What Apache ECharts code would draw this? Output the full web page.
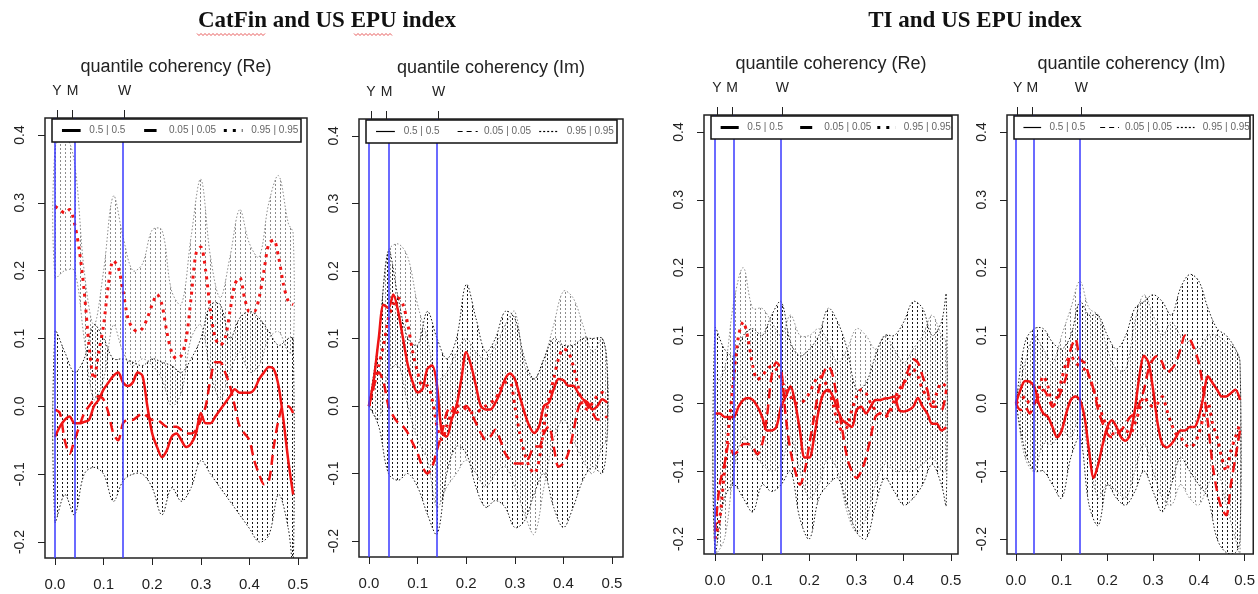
<!DOCTYPE html>
<html>
<head>
<meta charset="utf-8">
<script src="https://cdn.jsdelivr.net/npm/echarts@6/dist/echarts.min.js"></script>
<style>
  html, body { margin: 0; background: #fff; }
  #chart { width: 1258px; height: 594px; }
</style>
</head>
<body>
<div id="chart"></div>
<script>
// frequency grids
const freq = [0, 0.01, 0.02, 0.03, 0.04, 0.05, 0.06, 0.07, 0.08, 0.09,
  0.10, 0.11, 0.12, 0.13, 0.14, 0.15, 0.16, 0.17, 0.18, 0.19,
  0.20, 0.21, 0.22, 0.23, 0.24, 0.25, 0.26, 0.27, 0.28, 0.29,
  0.30, 0.31, 0.32, 0.33, 0.34, 0.35, 0.36, 0.37, 0.38, 0.39,
  0.40, 0.41, 0.42, 0.43, 0.44, 0.45, 0.46, 0.47, 0.48, 0.49];
const bandFreq = [0, 0.02, 0.04, 0.06, 0.08, 0.10, 0.12, 0.14, 0.16, 0.18, 0.20, 0.22, 0.24,
  0.26, 0.28, 0.30, 0.32, 0.34, 0.36, 0.38, 0.40, 0.42, 0.44, 0.46, 0.48, 0.49];

const xTicks = [0, 0.1, 0.2, 0.3, 0.4, 0.5];
const yTicks = [-0.2, -0.1, 0, 0.1, 0.2, 0.3, 0.4];
const periodMarks = [0.004, 0.036, 0.143];
const periodLabels = ['Y', 'M', 'W'];
const legendLabels = ['0.5 | 0.5', '0.05 | 0.05', '0.95 | 0.95'];

// CatFin and US EPU, real part
const catRe_q50 = [-0.045,-0.03,-0.02,-0.015,-0.025,-0.025,-0.023,-0.02,0.0,0.01,0.025,0.035,0.045,0.05,0.035,0.03,0.035,0.05,0.045,0.0,-0.04,-0.06,-0.075,-0.065,-0.045,-0.04,-0.05,-0.06,-0.055,-0.04,-0.01,-0.025,-0.025,-0.015,-0.005,0.005,0.015,0.025,0.02,0.02,0.02,0.025,0.04,0.05,0.058,0.055,0.03,-0.02,-0.08,-0.13];
const catRe_q05 = [-0.005,-0.01,-0.05,-0.07,-0.05,-0.03,-0.01,0.0,0.01,0.015,0.01,-0.01,-0.04,-0.05,-0.025,-0.02,-0.02,-0.015,-0.01,-0.015,-0.02,-0.02,-0.025,-0.03,-0.03,-0.03,-0.035,-0.04,-0.04,-0.035,-0.02,0.0,0.04,0.065,0.065,0.05,0.03,0.0,-0.03,-0.04,-0.05,-0.08,-0.1,-0.115,-0.11,-0.06,-0.02,0.0,0.0,-0.01];
const catRe_q95 = [0.295,0.29,0.285,0.29,0.27,0.23,0.17,0.09,0.04,0.08,0.12,0.18,0.215,0.205,0.17,0.13,0.115,0.11,0.115,0.13,0.15,0.165,0.15,0.11,0.08,0.07,0.075,0.1,0.16,0.225,0.235,0.2,0.14,0.1,0.09,0.1,0.14,0.18,0.19,0.16,0.14,0.14,0.16,0.2,0.24,0.245,0.22,0.18,0.155,0.15];
const catRe_grayLo = [0.19,0.2,0.2,0.1,0.01,0.04,0.12,0.08,0.06,0.07,0.06,0.04,0.0,0.02,0.1,0.12,0.05,0.01,0.05,0.08,0.05,0.06,0.1,0.11,0.08,0.08];
const catRe_grayHi = [0.38,0.4,0.36,0.2,0.12,0.2,0.31,0.25,0.2,0.21,0.26,0.26,0.17,0.15,0.25,0.335,0.22,0.16,0.22,0.29,0.24,0.22,0.3,0.34,0.27,0.255];
const catRe_blackLo = [-0.17,-0.13,-0.16,-0.1,-0.09,-0.1,-0.14,-0.11,-0.1,-0.1,-0.12,-0.16,-0.12,-0.14,-0.12,-0.08,-0.1,-0.12,-0.14,-0.16,-0.18,-0.2,-0.19,-0.13,-0.18,-0.24];
const catRe_blackHi = [0.11,0.08,0.05,0.07,0.12,0.1,0.07,0.07,0.065,0.06,0.07,0.065,0.06,0.05,0.07,0.1,0.15,0.15,0.1,0.13,0.14,0.13,0.11,0.09,0.1,0.1];

// CatFin and US EPU, imaginary part
const catIm_q50 = [0.0,0.04,0.1,0.15,0.145,0.165,0.14,0.1,0.06,0.035,0.02,0.025,0.055,0.06,0.03,-0.04,-0.045,-0.02,0.0,0.04,0.08,0.06,0.03,0.0,-0.005,-0.005,0.005,0.02,0.04,0.048,0.04,0.015,-0.01,-0.03,-0.04,-0.03,0.0,0.005,0.025,0.04,0.038,0.03,0.03,0.02,0.01,0.005,-0.005,0.0,0.01,0.005];
const catIm_q05 = [0.0,0.03,0.05,0.035,0.0,-0.015,-0.025,-0.03,-0.04,-0.055,-0.07,-0.09,-0.1,-0.09,-0.065,-0.04,-0.01,0.0,-0.01,-0.005,0.0,-0.01,-0.025,-0.04,-0.05,-0.045,-0.035,-0.05,-0.07,-0.08,-0.085,-0.085,-0.085,-0.075,-0.06,-0.06,-0.04,-0.03,-0.06,-0.09,-0.085,-0.07,-0.04,-0.005,0.01,0.0,-0.01,-0.02,-0.02,-0.015];
const catIm_q95 = [0.0,0.03,0.06,0.09,0.13,0.15,0.16,0.15,0.12,0.08,0.05,0.03,0.03,0.01,-0.03,-0.05,-0.03,-0.01,0.0,0.0,-0.005,-0.01,-0.01,-0.005,0.0,0.005,0.01,0.025,0.035,0.035,0.0,-0.04,-0.07,-0.09,-0.1,-0.08,-0.03,0.01,0.04,0.07,0.085,0.08,0.06,0.03,0.0,-0.005,0.005,0.015,0.02,0.015];
const catIm_grayLo = [0.0,-0.02,0.05,0.06,0.0,-0.05,-0.08,-0.15,-0.12,-0.1,-0.08,-0.1,-0.12,-0.1,-0.09,-0.12,-0.16,-0.19,-0.12,-0.05,-0.02,-0.05,-0.08,-0.1,-0.06,-0.05];
const catIm_grayHi = [0.0,0.1,0.23,0.24,0.22,0.15,0.1,0.04,0.05,0.08,0.1,0.08,0.07,0.09,0.12,0.14,0.06,0.04,0.07,0.12,0.17,0.16,0.12,0.08,0.1,0.05];
const catIm_blackLo = [0.0,-0.03,-0.1,-0.11,-0.1,-0.12,-0.16,-0.19,-0.1,-0.06,-0.07,-0.12,-0.15,-0.14,-0.15,-0.18,-0.17,-0.13,-0.1,-0.15,-0.18,-0.15,-0.11,-0.09,-0.1,-0.04];
const catIm_blackHi = [0.0,0.1,0.23,0.16,0.1,0.09,0.14,0.1,0.07,0.1,0.18,0.13,0.08,0.1,0.14,0.13,0.07,0.04,0.07,0.1,0.09,0.09,0.1,0.1,0.1,0.06];

// TI and US EPU, real part
const tiRe_q50 = [-0.015,-0.015,-0.02,-0.02,-0.02,-0.005,0.005,0.008,0.005,-0.005,-0.02,-0.04,-0.04,-0.035,-0.005,0.01,0.025,0.0,-0.04,-0.08,-0.08,-0.05,-0.01,0.015,0.02,0.01,-0.01,-0.025,-0.03,-0.035,-0.01,-0.005,-0.015,-0.005,0.005,0.005,0.007,0.008,0.01,-0.01,-0.012,-0.01,-0.005,0.008,-0.005,-0.015,-0.03,-0.03,-0.04,-0.035];
const tiRe_q05 = [-0.19,-0.12,-0.09,-0.06,-0.075,-0.07,-0.06,-0.06,-0.065,-0.075,-0.06,-0.02,0.04,0.06,0.05,-0.02,-0.07,-0.1,-0.12,-0.1,-0.06,-0.02,0.02,0.045,0.055,0.04,0.0,-0.04,-0.08,-0.1,-0.11,-0.1,-0.08,-0.05,-0.02,-0.015,-0.02,-0.01,0.0,0.01,0.03,0.05,0.065,0.06,0.04,0.02,-0.005,-0.005,-0.01,0.02];
const tiRe_q95 = [-0.2,-0.17,-0.1,-0.03,0.04,0.1,0.12,0.095,0.055,0.035,0.04,0.05,0.055,0.05,0.035,0.02,0.01,0.0,0.0,0.005,0.015,0.03,0.04,0.035,0.02,0.0,-0.03,-0.04,-0.035,-0.01,0.01,0.02,0.015,0.0,-0.01,-0.015,-0.02,-0.015,0.005,0.02,0.03,0.04,0.05,0.04,0.02,0.01,0.0,0.015,0.03,0.025];
const tiRe_grayLo = [-0.22,-0.2,-0.1,-0.05,-0.07,-0.09,-0.1,-0.09,-0.05,-0.1,-0.14,-0.12,-0.08,-0.1,-0.16,-0.19,-0.17,-0.12,-0.09,-0.1,-0.1,-0.1,-0.09,-0.08,-0.1,-0.1];
const tiRe_grayHi = [0.02,0.05,0.15,0.2,0.14,0.14,0.12,0.1,0.13,0.1,0.1,0.11,0.09,0.06,0.08,0.11,0.1,0.08,0.1,0.08,0.06,0.08,0.1,0.13,0.1,0.09];
const tiRe_blackLo = [-0.22,-0.14,-0.12,-0.14,-0.16,-0.12,-0.13,-0.12,-0.1,-0.17,-0.2,-0.14,-0.12,-0.11,-0.15,-0.19,-0.2,-0.15,-0.11,-0.13,-0.15,-0.14,-0.12,-0.09,-0.12,-0.15];
const tiRe_blackHi = [0.11,0.08,0.07,0.1,0.11,0.1,0.13,0.15,0.09,0.07,0.08,0.1,0.14,0.12,0.08,0.02,0.03,0.07,0.1,0.1,0.12,0.15,0.14,0.1,0.12,0.16];

// TI and US EPU, imaginary part
const tiIm_q50 = [0.0,0.02,0.033,0.032,0.025,0.0,-0.015,-0.02,-0.035,-0.05,-0.04,-0.015,0.005,0.01,0.005,-0.02,-0.07,-0.11,-0.09,-0.06,-0.035,-0.025,-0.035,-0.05,-0.055,-0.045,-0.01,0.04,0.07,0.06,0.02,-0.03,-0.06,-0.065,-0.06,-0.05,-0.04,-0.04,-0.035,-0.035,-0.02,0.01,0.04,0.03,0.02,0.01,0.01,0.015,0.02,0.005];
const tiIm_q05 = [0.0,-0.01,-0.005,-0.015,0.0,0.01,0.02,0.01,-0.005,0.005,0.02,0.04,0.08,0.095,0.065,0.06,0.04,0.02,-0.01,-0.03,-0.045,-0.05,-0.045,-0.04,-0.03,-0.02,-0.015,0.0,0.02,0.05,0.065,0.07,0.06,0.045,0.05,0.06,0.08,0.1,0.095,0.08,0.06,0.02,-0.03,-0.09,-0.13,-0.155,-0.165,-0.12,-0.08,-0.04];
const tiIm_q95 = [0.0,0.005,0.01,0.0,0.0,0.02,0.04,0.025,0.0,0.01,0.035,0.06,0.07,0.06,0.055,0.05,0.04,0.02,0.0,-0.02,-0.035,-0.045,-0.045,-0.04,-0.04,-0.045,-0.03,-0.01,0.01,0.0,-0.005,0.0,0.01,-0.01,-0.03,-0.045,-0.05,-0.06,-0.065,-0.06,-0.045,-0.02,0.0,-0.03,-0.05,-0.08,-0.1,-0.07,-0.05,-0.03];
const tiIm_grayLo = [0.0,-0.08,-0.1,-0.06,-0.06,-0.04,-0.05,-0.02,-0.08,-0.14,-0.12,-0.13,-0.14,-0.1,-0.06,-0.1,-0.14,-0.15,-0.12,-0.14,-0.15,-0.12,-0.1,-0.15,-0.2,-0.22];
const tiIm_grayHi = [0.0,0.06,0.1,0.08,0.06,0.1,0.14,0.18,0.14,0.13,0.08,0.05,0.05,0.12,0.16,0.13,0.1,0.12,0.1,0.09,0.08,0.1,0.1,0.09,0.08,0.06];
const tiIm_blackLo = [0.0,-0.07,-0.1,-0.1,-0.12,-0.14,-0.08,-0.05,-0.15,-0.18,-0.12,-0.14,-0.15,-0.13,-0.1,-0.13,-0.16,-0.12,-0.08,-0.1,-0.12,-0.14,-0.2,-0.22,-0.22,-0.2];
const tiIm_blackHi = [0.0,0.09,0.11,0.11,0.09,0.08,0.1,0.15,0.13,0.13,0.1,0.08,0.1,0.14,0.15,0.16,0.15,0.13,0.17,0.19,0.18,0.14,0.11,0.1,0.08,0.06];

const RED = '#f01414';
const BLUE = '#3a3aff';
const FONT = '"Liberation Sans", Arial, sans-serif';

// R-style density shading: vertical dotted lines
function hatch(color, ox, oy) {
  const c = document.createElement('canvas');
  c.width = 5; c.height = 4;
  const g = c.getContext('2d');
  g.fillStyle = color;
  g.fillRect(ox, oy, 1, 2);
  return { image: c, repeat: 'repeat' };
}
const grayHatch = hatch('#8c8c8c', 0, 0);
const blackHatch = hatch('#1a1a1a', 2, 2);

const panels = [
  { grid: { left: 45, top: 118, width: 262, height: 440 }, x: [-0.0206, 0.5185], y: [-0.2236, 0.425], thick: true, sub: 'quantile coherency (Re)',
    q50: catRe_q50, q05: catRe_q05, q95: catRe_q95, grayLo: catRe_grayLo, grayHi: catRe_grayHi, blackLo: catRe_blackLo, blackHi: catRe_blackHi },
  { grid: { left: 359, top: 119, width: 264, height: 438 }, x: [-0.0206, 0.5226], y: [-0.2236, 0.425], thick: false, sub: 'quantile coherency (Im)',
    q50: catIm_q50, q05: catIm_q05, q95: catIm_q95, grayLo: catIm_grayLo, grayHi: catIm_grayHi, blackLo: catIm_blackLo, blackHi: catIm_blackHi },
  { grid: { left: 704, top: 115, width: 254, height: 439 }, x: [-0.0233, 0.515], y: [-0.2221, 0.425], thick: true, sub: 'quantile coherency (Re)',
    q50: tiRe_q50, q05: tiRe_q05, q95: tiRe_q95, grayLo: tiRe_grayLo, grayHi: tiRe_grayHi, blackLo: tiRe_blackLo, blackHi: tiRe_blackHi },
  { grid: { left: 1007, top: 115, width: 249, height: 439 }, x: [-0.0195, 0.519], y: [-0.2221, 0.425], thick: false, sub: 'quantile coherency (Im)',
    q50: tiIm_q50, q05: tiIm_q05, q95: tiIm_q95, grayLo: tiIm_grayLo, grayHi: tiIm_grayHi, blackLo: tiIm_blackLo, blackHi: tiIm_blackHi }
];

const pts = (xs, ys) => xs.map((x, k) => [x, ys[k]]);

const grids = [], xAxes = [], yAxes = [], series = [], graphics = [];

panels.forEach((p, i) => {
  grids.push(Object.assign({ show: true, borderColor: '#222', borderWidth: 1.5, containLabel: false }, p.grid));

  xAxes.push({
    gridIndex: i, type: 'value', position: 'bottom', min: p.x[0], max: p.x[1],
    axisLine: { show: false, onZero: false }, splitLine: { show: false },
    axisTick: { show: true, length: 7, customValues: xTicks, lineStyle: { color: '#222', width: 1 } },
    axisLabel: { customValues: xTicks, formatter: v => v.toFixed(1), fontSize: 15, margin: 19, color: '#222', fontFamily: FONT }
  });
  yAxes.push({
    gridIndex: i, type: 'value', position: 'left', min: p.y[0], max: p.y[1],
    axisLine: { show: false, onZero: false }, splitLine: { show: false },
    axisTick: { show: true, length: 7, customValues: yTicks, lineStyle: { color: '#222', width: 1 } },
    axisLabel: { customValues: yTicks, formatter: v => v.toFixed(1), rotate: 90, fontSize: 14, margin: 18, color: '#222', fontFamily: FONT }
  });

  // shaded confidence band as one closed polygon through the axis scales
  const band = (lo, hi, color, fill) => {
    series.push({
      type: 'custom', xAxisIndex: i, yAxisIndex: i, clip: true, silent: true, z: 1,
      data: bandFreq.map((x, k) => [x, lo[k], hi[k]]),
      encode: { x: 0, y: [1, 2] },
      renderItem: (params, api) => {
        if (params.dataIndex !== 0) return null;
        const low = [], up = [];
        for (let k = 0; k < bandFreq.length; k++) {
          low.push(api.coord([bandFreq[k], lo[k]]));
          up.push(api.coord([bandFreq[k], hi[k]]));
        }
        return {
          type: 'polygon',
          shape: { points: low.concat(up.reverse()), smooth: 0.35 },
          style: { fill: fill, stroke: color, lineWidth: 1, lineDash: [1.5, 2] }
        };
      }
    });
  };
  band(p.grayLo, p.grayHi, '#8c8c8c', grayHatch);
  band(p.blackLo, p.blackHi, '#1a1a1a', blackHatch);

  series.push({
    type: 'line', xAxisIndex: i, yAxisIndex: i, data: pts(freq, p.q95), smooth: 0.3, symbol: 'none', silent: true,
    lineStyle: { color: RED, width: 3, type: [3, 5] }, z: 3
  });
  series.push({
    type: 'line', xAxisIndex: i, yAxisIndex: i, data: pts(freq, p.q05), smooth: 0.3, symbol: 'none', silent: true,
    lineStyle: { color: RED, width: 2.5, type: [10, 6] }, z: 3
  });
  series.push({
    type: 'line', xAxisIndex: i, yAxisIndex: i, data: pts(freq, p.q50), smooth: 0.3, symbol: 'none', silent: true,
    lineStyle: { color: RED, width: 2.5 }, z: 3,
    markLine: {
      silent: true, symbol: 'none', label: { show: false }, animation: false,
      lineStyle: { color: BLUE, width: 1.5, type: 'solid' },
      emphasis: { disabled: true },
      data: periodMarks.map(v => ({ xAxis: v }))
    }
  });

  // legend box
  const g = p.grid;
  const x0 = g.left + 7, x1 = g.left + g.width - 6, y0 = g.top + 1, h = 23;
  const w = x1 - x0, ym = y0 + h / 2;
  const lw = p.thick ? 3 : 1.2;
  const seg = (a, b, dash) => ({
    type: 'line', z: 100, silent: true,
    shape: { x1: x0 + a * w, y1: ym, x2: x0 + b * w, y2: ym },
    style: { stroke: '#000', lineWidth: lw, lineDash: dash }
  });
  const txt = (a, s) => ({
    type: 'text', z: 100, silent: true,
    style: { text: s, x: x0 + a * w, y: ym, font: '10px ' + FONT, fill: '#666', verticalAlign: 'middle', align: 'left' }
  });
  graphics.push({ type: 'rect', z: 99, silent: true, shape: { x: x0, y: y0, width: w, height: h }, style: { fill: '#fff', stroke: '#111', lineWidth: 1.5 } });
  graphics.push(seg(0.04, 0.115, null));
  graphics.push(txt(0.15, legendLabels[0]));
  graphics.push(p.thick ? seg(0.37, 0.42, null) : seg(0.365, 0.445, [5, 4]));
  graphics.push(txt(0.47, legendLabels[1]));
  graphics.push(p.thick ? seg(0.69, 0.765, [3, 6]) : seg(0.69, 0.765, [2, 2]));
  graphics.push(txt(0.80, legendLabels[2]));

  // subtitle
  graphics.push({
    type: 'text', z: 100, silent: true,
    style: { text: p.sub, x: g.left + g.width / 2, y: g.top - 51, font: '18px ' + FONT, fill: '#222', align: 'center', verticalAlign: 'middle' }
  });
});

// top axes with period markers
panels.forEach((p, i) => {
  xAxes.push({
    gridIndex: i, type: 'value', position: 'top', min: p.x[0], max: p.x[1],
    axisLine: { show: false, onZero: false }, splitLine: { show: false },
    axisTick: { show: true, length: 8, customValues: periodMarks, lineStyle: { color: '#222', width: 1 } },
    axisLabel: {
      customValues: periodMarks, margin: 20, fontSize: 14, color: '#222', fontFamily: FONT,
      formatter: v => {
        let best = 0;
        periodMarks.forEach((m, k) => { if (Math.abs(m - v) < Math.abs(periodMarks[best] - v)) best = k; });
        return periodLabels[best];
      }
    }
  });
});

const titleFont = 'bold 23px "Liberation Serif", "DejaVu Serif", serif';
graphics.push({
  type: 'text', z: 100, silent: true,
  style: { text: 'CatFin and US EPU index', x: 327, y: 21, font: titleFont, fill: '#111', align: 'center', verticalAlign: 'middle' }
});
graphics.push({
  type: 'text', z: 100, silent: true,
  style: { text: 'TI and US EPU index', x: 975, y: 21, font: titleFont, fill: '#111', align: 'center', verticalAlign: 'middle' }
});
// spell-check squiggles under "CatFin" and "EPU"
const squiggle = (xa, xb, y) => {
  const p = [];
  for (let x = xa, k = 0; x <= xb; x += 2, k++) p.push([x, y + (k % 2 ? 1.5 : -0.5)]);
  return { type: 'polyline', z: 100, silent: true, shape: { points: p }, style: { stroke: '#e03030', lineWidth: 0.8, fill: null } };
};
graphics.push(squiggle(197, 266, 34));
graphics.push(squiggle(354, 392, 34));

const chart = echarts.init(document.getElementById('chart'));
chart.setOption({
  animation: false,
  backgroundColor: '#fff',
  grid: grids,
  xAxis: xAxes,
  yAxis: yAxes,
  series: series,
  graphic: graphics
});
</script>
</body>
</html>
